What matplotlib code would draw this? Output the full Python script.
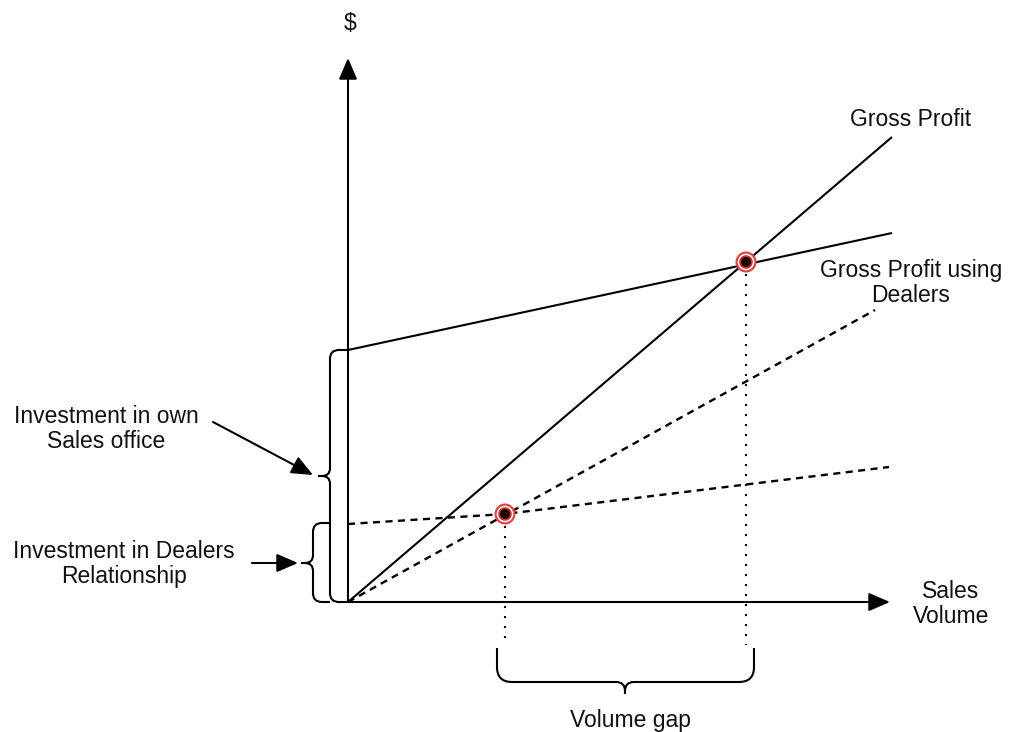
import matplotlib
matplotlib.use("Agg")
import matplotlib.pyplot as plt
from matplotlib.path import Path
from matplotlib.patches import PathPatch, Circle

plt.rcParams['font.family'] = ['Liberation Sans', 'DejaVu Sans']

# ---- data (sales volume, $) ----
gp_volume = [0, 544]
gp_value = [0, 465]
office_cost_volume = [0, 544]
office_cost_value = [252, 369]
dealer_gp_volume = [0, 527]
dealer_gp_value = [0, 292]
dealer_cost_volume = [0, 157, 541]
dealer_cost_value = [78, 88, 135]
breakeven_volume = [157, 398]
breakeven_value = [88, 340]
axis_x_max = 542
axis_y_max = 544

fig = plt.figure(figsize=(10.09, 7.32), dpi=100)
ax = fig.add_axes([0, 0, 1, 1])
ax.set_xlim(-348, 661)
ax.set_ylim(-130, 602)
ax.axis('off')

LW = 1.5
K = 'black'
FS = 16.5

# axes arrows
arrow_style = dict(arrowstyle='-|>,head_length=0.65,head_width=0.28', mutation_scale=20,
                   lw=LW, color=K, shrinkA=0, shrinkB=0)
ax.annotate('', xy=(0, axis_y_max), xytext=(0, 0), arrowprops=arrow_style)
ax.annotate('', xy=(axis_x_max, 0), xytext=(0, 0), arrowprops=arrow_style)

# lines
ax.plot(gp_volume, gp_value, color=K, lw=LW, solid_capstyle='butt')
ax.plot(office_cost_volume, office_cost_value, color=K, lw=LW, solid_capstyle='butt')
dash = (0, (3.0, 2.3))
ax.plot(dealer_gp_volume, dealer_gp_value, color=K, lw=1.7, linestyle=dash)
ax.plot(dealer_cost_volume, dealer_cost_value, color=K, lw=1.7, linestyle=dash)

# dotted drop lines
for v, val in zip(breakeven_volume, breakeven_value):
    ax.plot([v, v], [val - 12, -43], color=K, lw=LW, linestyle=(0, (1, 3.8)))

# markers
for v, val in zip(breakeven_volume, breakeven_value):
    ax.add_patch(Circle((v, val), 10.5, facecolor='#e04545', edgecolor='none', zorder=5))
    ax.add_patch(Circle((v, val), 8.3, facecolor='white', edgecolor='none', zorder=6))
    ax.add_patch(Circle((v, val), 6.8, facecolor='#d23030', edgecolor='none', zorder=7))
    ax.add_patch(Circle((v, val), 5.0, facecolor='#1a0000', edgecolor='none', zorder=8))


def brace(a, b, m, d0, d1, d2, r, r2, vertical):
    s = 1 if d2 > d0 else -1
    pts = [
        (a, d0), (a, d1 - s * r),
        (a, d1), (a + r, d1),
        (m - r2, d1),
        (m, d1), (m, d1 + s * r2),
        (m, d2),
        (m, d1 + s * r2),
        (m, d1), (m + r2, d1),
        (b - r, d1),
        (b, d1), (b, d1 - s * r),
        (b, d0),
    ]
    codes = [Path.MOVETO, Path.LINETO,
             Path.CURVE3, Path.CURVE3,
             Path.LINETO,
             Path.CURVE3, Path.CURVE3,
             Path.LINETO,
             Path.MOVETO,
             Path.CURVE3, Path.CURVE3,
             Path.LINETO,
             Path.CURVE3, Path.CURVE3,
             Path.LINETO]
    if vertical:
        pts = [(d, l) for l, d in pts]
    ax.add_patch(PathPatch(Path(pts, codes), facecolor='none', edgecolor=K, lw=LW,
                           capstyle='butt'))


brace(0, 252, 126, 0, -18, -30, 9, 8, True)
brace(0, 79, 39, -18, -35, -47, 9, 8, True)
brace(149, 406, 277, -46, -80, -92, 15, 9, False)

# label arrows
lab_arrow = dict(arrowstyle='-|>,head_length=0.65,head_width=0.28', mutation_scale=20,
                 lw=LW, color=K, shrinkA=0, shrinkB=0)
ax.annotate('', xy=(-35, 127), xytext=(-135, 180), arrowprops=lab_arrow)
ax.annotate('', xy=(-50, 39), xytext=(-96, 39), arrowprops=lab_arrow)

# texts
def txt(x, y, s):
    ax.text(x, y, s, ha='center', va='center', fontsize=FS, color='#111111',
            linespacing=1.15)

txt(2, 579, '$')
txt(563, 483, 'Gross Profit')
txt(563, 319, 'Gross Profit using\nDealers')
txt(-242, 173, 'Investment in own\nSales office')
txt(-224, 38, 'Investment in Dealers\nRelationship')
txt(603, -2, 'Sales\nVolume')
txt(282, -118, 'Volume gap')

fig.savefig('out.png', dpi=100, facecolor='white')
